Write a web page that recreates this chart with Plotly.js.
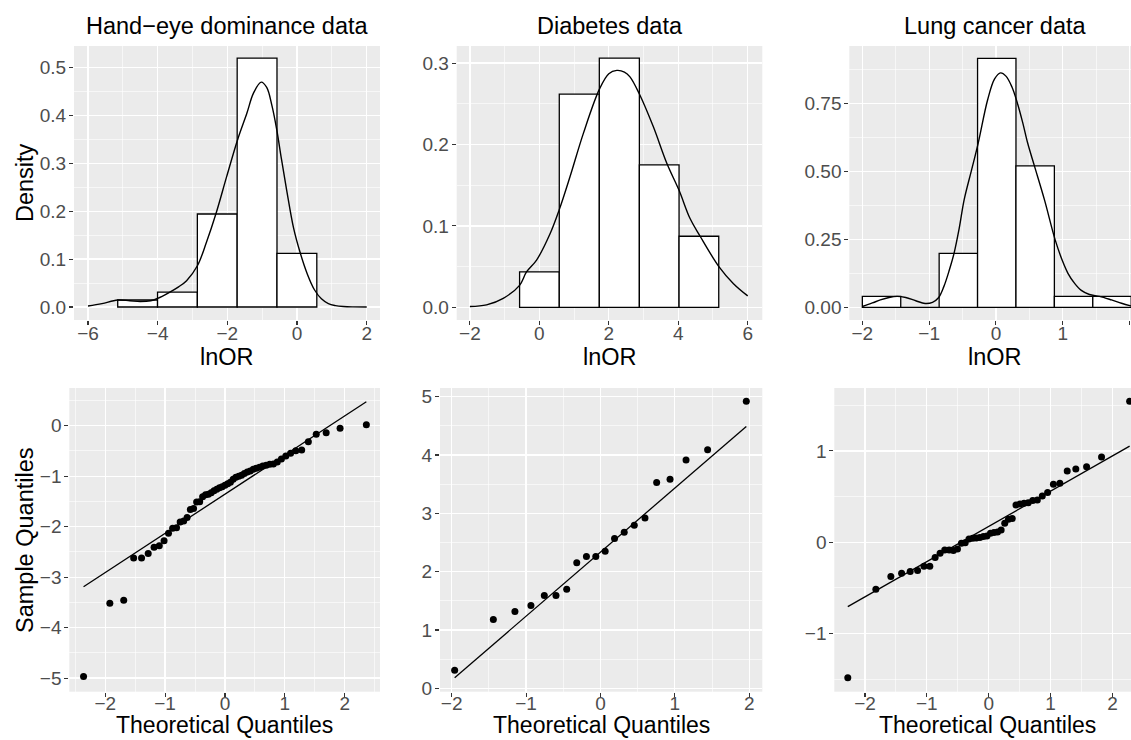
<!DOCTYPE html>
<html><head><meta charset="utf-8">
<script src="https://cdn.plot.ly/plotly-3.0.1.min.js"></script>
<style>html,body{margin:0;padding:0;background:#fff}#chart{width:1131px;height:740px}</style>
</head><body><div id="chart"></div>
<script>
// ---------- Panel titles and axis titles ----------
const panelTitles = ["Hand\u2212eye dominance data", "Diabetes data", "Lung cancer data"];
const topXTitle = "lnOR";
const bottomXTitle = "Theoretical Quantiles";
const topYTitle = "Density";
const bottomYTitle = "Sample Quantiles";

// ---------- Histograms (bin edges and densities) ----------
const handEyeEdges = [-5.147, -4.004, -2.861, -1.718, -0.575, 0.568];
const handEyeDensity = [0.0146, 0.031, 0.194, 0.519, 0.112];
const diabetesEdges = [-0.569, 0.574, 1.727, 2.880, 4.023, 5.166];
const diabetesDensity = [0.0434, 0.262, 0.306, 0.175, 0.0873];
const lungEdges = [-2.0, -1.425, -0.850, -0.275, 0.300, 0.875, 1.450, 2.025];
const lungDensity = [0.0404, 0, 0.1985, 0.915, 0.52, 0.0404, 0.0404];

// ---------- Density curves ----------
const handEyeCurveX = [-6, -5.6, -5.15, -4.8, -4.5, -4.2, -4.0, -3.7, -3.4, -3.17, -2.86, -2.6, -2.33, -2.02, -1.71, -1.44, -1.25, -1.03, -0.87, -0.72, -0.58, -0.45, -0.3, -0.1, 0.096, 0.3, 0.5, 0.7, 0.9, 1.1, 1.33, 1.6, 2.0];
const handEyeCurveY = [0.002, 0.007, 0.0146, 0.013, 0.0115, 0.013, 0.018, 0.029, 0.042, 0.055, 0.086, 0.135, 0.194, 0.272, 0.348, 0.404, 0.446, 0.469, 0.458, 0.42, 0.369, 0.31, 0.245, 0.165, 0.112, 0.068, 0.036, 0.017, 0.007, 0.003, 0.001, 0.0002, 0];
const diabetesCurveX = [-2, -1.52, -1.04, -0.57, -0.37, -0.08, 0.305, 0.574, 0.88, 1.27, 1.73, 2.0, 2.23, 2.45, 2.61, 2.88, 3.28, 3.67, 4.02, 4.34, 4.63, 5.17, 5.59, 6.0];
const diabetesCurveY = [0.001, 0.003, 0.011, 0.027, 0.0434, 0.058, 0.09, 0.12, 0.16, 0.214, 0.268, 0.287, 0.291, 0.289, 0.283, 0.262, 0.222, 0.177, 0.144, 0.109, 0.0873, 0.05, 0.029, 0.014];
const lungCurveX = [-2.0, -1.85, -1.73, -1.6, -1.48, -1.35, -1.2, -1.06, -0.95, -0.86, -0.78, -0.7, -0.627, -0.55, -0.476, -0.37, -0.266, -0.125, -0.02, 0.07, 0.15, 0.24, 0.316, 0.4, 0.476, 0.576, 0.727, 0.887, 1.0, 1.078, 1.178, 1.278, 1.4, 1.55, 1.73, 1.88, 2.02];
const lungCurveY = [0.003, 0.016, 0.027, 0.036, 0.040, 0.036, 0.024, 0.014, 0.018, 0.035, 0.076, 0.135, 0.1985, 0.29, 0.395, 0.5, 0.603, 0.762, 0.84, 0.862, 0.85, 0.81, 0.755, 0.68, 0.603, 0.52, 0.395, 0.248, 0.168, 0.125, 0.088, 0.062, 0.047, 0.04, 0.027, 0.015, 0.005];

// ---------- Q-Q plots ----------
const handEyeTheo = [-2.362, -1.923, -1.691, -1.525, -1.393, -1.282, -1.184, -1.097, -1.017, -0.943, -0.874, -0.809, -0.748, -0.689, -0.632, -0.578, -0.524, -0.473, -0.422, -0.373, -0.324, -0.277, -0.230, -0.183, -0.137, -0.091, -0.046, 0, 0.046, 0.091, 0.137, 0.183, 0.230, 0.277, 0.324, 0.373, 0.422, 0.473, 0.524, 0.578, 0.632, 0.689, 0.748, 0.809, 0.874, 0.943, 1.017, 1.097, 1.184, 1.282, 1.393, 1.525, 1.691, 1.923, 2.362];
const handEyeSample = [-4.97, -3.52, -3.46, -2.62, -2.62, -2.53, -2.41, -2.38, -2.28, -2.13, -2.03, -2.02, -1.91, -1.89, -1.82, -1.66, -1.64, -1.51, -1.505, -1.41, -1.37, -1.36, -1.33, -1.29, -1.26, -1.23, -1.21, -1.18, -1.15, -1.12, -1.06, -1.02, -1.0, -0.98, -0.95, -0.92, -0.90, -0.865, -0.845, -0.825, -0.80, -0.785, -0.766, -0.759, -0.72, -0.66, -0.60, -0.548, -0.495, -0.482, -0.317, -0.172, -0.139, -0.053, 0.02];
const handEyeLineX = [-2.362, 2.362];
const handEyeLineY = [-3.19, 0.475];

const diabetesTheo = [-1.960, -1.440, -1.150, -0.935, -0.755, -0.598, -0.454, -0.319, -0.189, -0.063, 0.063, 0.189, 0.319, 0.454, 0.598, 0.755, 0.935, 1.150, 1.440, 1.960];
const diabetesSample = [0.31, 1.18, 1.315, 1.42, 1.59, 1.59, 1.70, 2.155, 2.26, 2.26, 2.35, 2.57, 2.675, 2.795, 2.92, 3.53, 3.585, 3.915, 4.09, 4.92];
const diabetesLineX = [-1.96, 1.96];
const diabetesLineY = [0.182, 4.488];

const lungTheo = [-2.278, -1.824, -1.582, -1.408, -1.269, -1.150, -1.046, -0.952, -0.866, -0.786, -0.711, -0.639, -0.571, -0.505, -0.441, -0.380, -0.319, -0.259, -0.201, -0.143, -0.0855, -0.0285, 0.0285, 0.0855, 0.143, 0.201, 0.259, 0.319, 0.380, 0.441, 0.505, 0.571, 0.639, 0.711, 0.786, 0.866, 0.952, 1.046, 1.150, 1.269, 1.408, 1.582, 1.824, 2.278];
const lungSample = [-1.482, -0.515, -0.376, -0.34, -0.32, -0.31, -0.262, -0.262, -0.168, -0.12, -0.084, -0.084, -0.09, -0.073, -0.011, -0.004, 0.036, 0.043, 0.047, 0.051, 0.062, 0.069, 0.098, 0.106, 0.113, 0.135, 0.208, 0.252, 0.259, 0.409, 0.42, 0.427, 0.434, 0.456, 0.464, 0.507, 0.544, 0.635, 0.646, 0.781, 0.803, 0.828, 0.934, 1.544];
const lungLineX = [-2.278, 2.278];
const lungLineY = [-0.705, 1.053];

// ---------- Build figure ----------
const FONT = "Liberation Sans, Arial, Helvetica, sans-serif";
function centers(e){ const c=[]; for(let i=0;i<e.length-1;i++) c.push((e[i]+e[i+1])/2); return c; }
function widths(e){ const w=[]; for(let i=0;i<e.length-1;i++) w.push(e[i+1]-e[i]); return w; }

const barStyle = {color:'#FFFFFF', line:{color:'#000000', width:1.3}};
const curveStyle = {color:'#000000', width:1.4, shape:'spline', smoothing:1};
const pointStyle = {color:'#000000', size:7};
const qqLine = {color:'#000000', width:1.3};

const traces = [
  {type:'bar', xaxis:'x', yaxis:'y', x:centers(handEyeEdges), y:handEyeDensity, width:widths(handEyeEdges), marker:barStyle},
  {type:'scatter', mode:'lines', xaxis:'x', yaxis:'y', x:handEyeCurveX, y:handEyeCurveY, line:curveStyle},
  {type:'bar', xaxis:'x2', yaxis:'y2', x:centers(diabetesEdges), y:diabetesDensity, width:widths(diabetesEdges), marker:barStyle},
  {type:'scatter', mode:'lines', xaxis:'x2', yaxis:'y2', x:diabetesCurveX, y:diabetesCurveY, line:curveStyle},
  {type:'bar', xaxis:'x3', yaxis:'y3', x:centers(lungEdges), y:lungDensity, width:widths(lungEdges), marker:barStyle},
  {type:'scatter', mode:'lines', xaxis:'x3', yaxis:'y3', x:lungCurveX, y:lungCurveY, line:curveStyle},
  {type:'scatter', mode:'lines', xaxis:'x4', yaxis:'y4', x:handEyeLineX, y:handEyeLineY, line:qqLine},
  {type:'scatter', mode:'markers', xaxis:'x4', yaxis:'y4', x:handEyeTheo, y:handEyeSample, marker:pointStyle},
  {type:'scatter', mode:'lines', xaxis:'x5', yaxis:'y5', x:diabetesLineX, y:diabetesLineY, line:qqLine},
  {type:'scatter', mode:'markers', xaxis:'x5', yaxis:'y5', x:diabetesTheo, y:diabetesSample, marker:pointStyle},
  {type:'scatter', mode:'lines', xaxis:'x6', yaxis:'y6', x:lungLineX, y:lungLineY, line:qqLine},
  {type:'scatter', mode:'markers', xaxis:'x6', yaxis:'y6', x:lungTheo, y:lungSample, marker:pointStyle}
];

const W = 1131, H = 740;
function dx(a,b){ return [a/W, Math.min(1,b/W)]; }
function dy(top,bot){ return [1-bot/H, 1-top/H]; }

function axis(domain, range, anchor, dtick, minor, fmt, standoff){
  return {
    domain: domain, range: range, anchor: anchor, autorange:false,
    tickmode:'linear', tick0:0, dtick:dtick, tickformat:fmt,
    showgrid:true, gridcolor:'#FFFFFF', gridwidth:1.2,
    zeroline:false, showline:false,
    ticks:'outside', ticklen:4, tickwidth:1.1, tickcolor:'#333333',
    ticklabelstandoff: standoff,
    tickfont:{family:FONT, size:19, color:'#4D4D4D'},
    minor:{tickmode:'linear', tick0:0, dtick:minor, showgrid:true, gridcolor:'#FFFFFF', gridwidth:0.6, ticks:''},
    fixedrange:true
  };
}

const colX = [dx(74,380), dx(456.7,762.3), dx(849.3,1131)];
const colXb = [dx(69.3,380), dx(440,762.3), dx(834.3,1131)];
const topY = dy(46,320), botY = dy(388,691.7);

function note(text, x, y, size, angle, yanchor){
  return {text:text, xref:'paper', yref:'paper', x:x, y:y, xanchor:'center', yanchor:yanchor||'middle',
          showarrow:false, textangle:angle||0, borderpad:0, font:{family:FONT, size:size, color:'#000000'}};
}

const annotations = [];
const titleCenters = [(74+380)/2, (456.7+762.3)/2, (849.3+1141)/2];
panelTitles.forEach((t,i)=>annotations.push(note(t, titleCenters[i]/W, 1-26/H, 23.5)));
// x-axis titles
[ (74+380)/2, (456.7+762.3)/2, (849.3+1141)/2 ].forEach(c=>annotations.push(note(topXTitle, c/W, 1-357/H, 23.5)));
[ (69.3+380)/2, (440+762.3)/2, (834.3+1141)/2 ].forEach(c=>annotations.push(note(bottomXTitle, c/W, 0.001, 23, 0, 'bottom')));
// y-axis titles
annotations.push(note(topYTitle, 25/W, 1-183/H, 23.5, -90));
annotations.push(note(bottomYTitle, 25/W, 1-540/H, 23.5, -90));

const layout = {
  width:W, height:H, margin:{l:0,r:0,t:0,b:0},
  paper_bgcolor:'#FFFFFF', plot_bgcolor:'#EBEBEB',
  showlegend:false, bargap:0,
  font:{family:FONT},
  xaxis:  axis(colX[0], [-6.402, 2.382], 'y', 2, 1, 'd', -8),
  yaxis:  axis(topY, [-0.0271, 0.5444], 'x', 0.1, 0.05, '.1f', -1),
  xaxis2: axis(colX[1], [-2.38, 6.42], 'y2', 2, 1, 'd', -8),
  yaxis2: axis(topY, [-0.0156, 0.321], 'x2', 0.1, 0.05, '.1f', -1),
  xaxis3: axis(colX[2], [-2.195, 2.022], 'y3', 1, 0.5, 'd', -8),
  yaxis3: axis(topY, [-0.0467, 0.9607], 'x3', 0.25, 0.125, '.2f', -1),
  xaxis4: axis(colXb[0], [-2.60, 2.59], 'y4', 1, 0.5, 'd', -10),
  yaxis4: axis(botY, [-5.27, 0.746], 'x4', 1, 0.5, 'd', -1),
  xaxis5: axis(colXb[1], [-2.157, 2.175], 'y5', 1, 0.5, 'd', -10),
  yaxis5: axis(botY, [-0.058, 5.149], 'x5', 1, 0.5, 'd', -1),
  xaxis6: axis(colXb[2], [-2.496, 2.30], 'y6', 1, 0.5, 'd', -10),
  yaxis6: axis(botY, [-1.636, 1.689], 'x6', 1, 0.5, 'd', -1),
  annotations: annotations
};

Plotly.newPlot('chart', traces, layout, {staticPlot:true, displayModeBar:false});
</script></body></html>
